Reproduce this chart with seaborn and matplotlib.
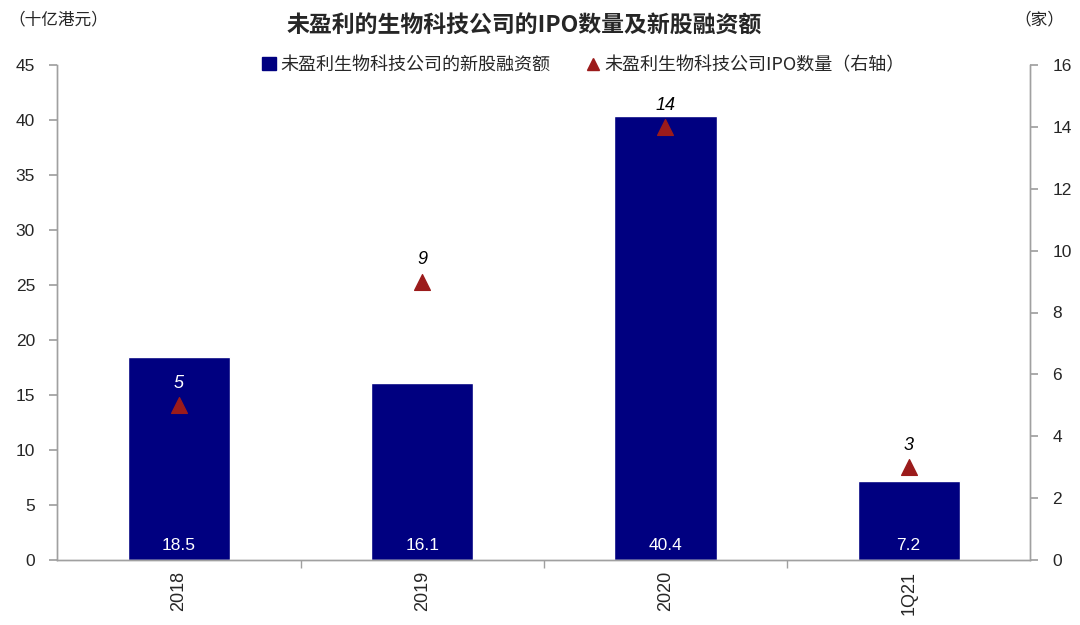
import matplotlib
matplotlib.use("Agg")
import matplotlib.pyplot as plt
import seaborn as sns
import pandas as pd
from matplotlib.lines import Line2D
from matplotlib.patches import Patch

categories = ["2018", "2019", "2020", "1Q21"]
funds = [18.5, 16.1, 40.4, 7.2]
ipo_counts = [5, 9, 14, 3]
left_ticks = list(range(0, 50, 5))
right_ticks = list(range(0, 18, 2))

title = "未盈利的生物科技公司的IPO数量及新股融资额"
bar_label = "未盈利生物科技公司的新股融资额"
marker_label = "未盈利生物科技公司IPO数量（右轴）"
left_unit = "（十亿港元）"
right_unit = "（家）"

sns.set_theme(style="white")
plt.rcParams["font.family"] = ["Liberation Sans", "Noto Sans CJK SC", "DejaVu Sans"]

BAR_COLOR = "#000080"
TRI_COLOR = "#9B1B1B"
GRAY = "#A0A0A0"
CJK = ["Noto Sans CJK SC", "DejaVu Sans"]

df = pd.DataFrame({"cat": categories, "funds": funds, "ipo": ipo_counts})

fig = plt.figure(figsize=(10.8, 6.25), dpi=100)
ax = fig.add_axes([0.053, 0.104, 0.901, 0.792])

sns.barplot(data=df, x="cat", y="funds", color=BAR_COLOR, saturation=1,
            width=0.42, ax=ax, order=categories)
ax.set_xlim(-0.5, 3.5)
ax.set_ylim(0, 45)
ax.set_yticks(left_ticks)
ax.set_xlabel("")
ax.set_ylabel("")

for i, v in enumerate(funds):
    ax.text(i, 1.3, f"{v:.1f}", ha="center", va="center", color="white", fontsize=12.5)

ax2 = ax.twinx()
sns.scatterplot(data=df, x="cat", y="ipo", marker="^", color=TRI_COLOR, s=130,
                edgecolor=TRI_COLOR, ax=ax2, legend=False, zorder=5)
ax2.set_xlim(-0.5, 3.5)
ax2.set_ylim(0, 16)
ax2.set_yticks(right_ticks)
ax2.set_ylabel("")
ax2.set_xlabel("")

label_offset = 0.7  # in right-axis units
for i, v in enumerate(ipo_counts):
    ly = v + label_offset
    col = "white" if ly * 45 / 16 < funds[i] else "black"
    ax2.text(i, ly, str(v), ha="center", va="center", fontsize=13, style="italic", color=col)

for a in (ax, ax2):
    a.spines["top"].set_visible(False)
    for s in ("left", "right", "bottom"):
        a.spines[s].set_color(GRAY)
        a.spines[s].set_linewidth(1.0)
    a.grid(False)

ax.set_xticks(range(len(categories)))
ax.set_xticklabels(categories, rotation=90, fontsize=13)
ax.tick_params(axis="x", which="major", length=0, pad=8)
ax.set_xticks([0.5, 1.5, 2.5], minor=True)
ax.tick_params(axis="x", which="minor", length=6, color=GRAY, direction="out", bottom=True)
ax.tick_params(axis="y", length=6, color=GRAY, direction="out", left=True, labelsize=12.5, pad=10)
ax2.tick_params(axis="y", length=6, color=GRAY, direction="out", right=True, labelsize=12.5, pad=10)

fig.text(0.485, 0.958, title, ha="center", va="center", fontsize=16.5, fontweight="bold", family=CJK)
fig.text(0.008, 0.968, left_unit, ha="left", va="center", fontsize=12, family=CJK)
fig.text(0.962, 0.968, right_unit, ha="center", va="center", fontsize=12, family=CJK)

handles = [Patch(facecolor=BAR_COLOR, edgecolor=BAR_COLOR),
           Line2D([], [], marker="^", color=TRI_COLOR, linestyle="none", markersize=9)]
fig.legend(handles, [bar_label, marker_label], loc="center", bbox_to_anchor=(0.54, 0.896),
           ncol=2, frameon=False, handlelength=0.8, handletextpad=0.2,
           columnspacing=2.0, prop={"family": CJK, "size": 13})

fig.savefig("out.png", dpi=100)
